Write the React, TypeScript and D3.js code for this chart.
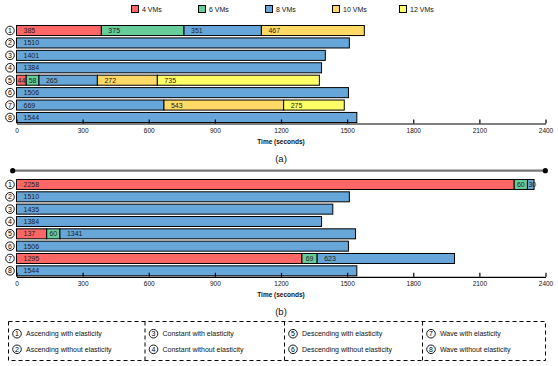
import React, { useEffect, useRef } from 'react';
import * as d3 from 'd3';

const vmTypes = ['4 VMs', '6 VMs', '8 VMs', '10 VMs', '12 VMs'];
const vmColors = ['#ff6666', '#66cc99', '#66a6d9', '#ffd966', '#ffff66'];
const rowIds = ['1', '2', '3', '4', '5', '6', '7', '8'];
const timeTicks = [0, 300, 600, 900, 1200, 1500, 1800, 2100, 2400];

// each row: list of [vm type index, seconds]
const runsA = [
  [[0, 385], [1, 375], [2, 351], [3, 467]],
  [[2, 1510]],
  [[2, 1401]],
  [[2, 1384]],
  [[0, 44], [1, 58], [2, 265], [3, 272], [4, 735]],
  [[2, 1506]],
  [[2, 669], [3, 543], [4, 275]],
  [[2, 1544]],
];

const runsB = [
  [[0, 2258], [1, 60], [2, 30]],
  [[2, 1510]],
  [[2, 1435]],
  [[2, 1384]],
  [[0, 137], [1, 60], [2, 1341]],
  [[2, 1506]],
  [[0, 1295], [1, 69], [2, 623]],
  [[2, 1544]],
];

const scenarioNames = [
  'Ascending with elasticity',
  'Ascending without elasticity',
  'Constant with elasticity',
  'Constant without elasticity',
  'Descending with elasticity',
  'Descending without elasticity',
  'Wave with elasticity',
  'Wave without elasticity',
];

const FONT = '"Liberation Sans", Arial, sans-serif';

function numberBadge(g, cx, cy, label) {
  g.append('circle')
    .attr('cx', cx)
    .attr('cy', cy)
    .attr('r', 4.3)
    .attr('fill', '#fff')
    .attr('stroke', '#000')
    .attr('stroke-width', 0.9);
  g.append('text')
    .attr('x', cx)
    .attr('y', cy)
    .attr('dy', '0.36em')
    .attr('text-anchor', 'middle')
    .attr('font-size', 7)
    .attr('fill', '#000')
    .text(label);
}

function drawPanel(svg, runs, top, axisY, caption) {
  const x = d3.scaleLinear().domain([0, 2400]).range([16.5, 545.5]);
  const y = d3
    .scaleBand()
    .domain(rowIds)
    .range([top, axisY + 0.5])
    .paddingInner(0.19)
    .paddingOuter(0.12);

  const g = svg.append('g');

  rowIds.forEach((id, i) => {
    numberBadge(g, 10, y(id) + y.bandwidth() / 2, id);
    let acc = 0;
    const segs = runs[i].map(([vm, sec]) => {
      const s = { vm, sec, start: acc };
      acc += sec;
      return s;
    });
    const row = g.append('g');
    row
      .selectAll('rect')
      .data(segs)
      .join('rect')
      .attr('x', d => x(d.start))
      .attr('y', y(id))
      .attr('width', d => x(d.start + d.sec) - x(d.start))
      .attr('height', y.bandwidth())
      .attr('fill', d => vmColors[d.vm])
      .attr('stroke', '#000')
      .attr('stroke-width', 1);
    row
      .selectAll('text')
      .data(segs)
      .join('text')
      .attr('x', d => {
        const w = x(d.start + d.sec) - x(d.start);
        const tw = String(d.sec).length * 3.9;
        return w > 22 ? x(d.start) + 7 : x(d.start) + Math.max(1, (w - tw) / 2);
      })
      .attr('y', y(id) + y.bandwidth() / 2)
      .attr('dy', '0.36em')
      .attr('font-size', 7)
      .attr('fill', '#222')
      .text(d => d.sec);
  });

  const axis = g
    .append('g')
    .attr('transform', `translate(0,${axisY})`)
    .call(
      d3
        .axisBottom(x)
        .tickValues(timeTicks)
        .tickFormat(d3.format('d'))
        .tickSizeInner(-4)
        .tickSizeOuter(0)
        .tickPadding(5),
    );
  axis.select('.domain').attr('stroke', '#000').attr('stroke-width', 1.2);
  axis.selectAll('.tick line').attr('stroke', '#000').attr('stroke-width', 1.2);
  axis
    .selectAll('.tick text')
    .attr('font-family', FONT)
    .attr('font-size', 6.5)
    .attr('fill', '#111');

  g.append('text')
    .attr('x', 281)
    .attr('y', axisY + 20.5)
    .attr('text-anchor', 'middle')
    .attr('font-size', 6.5)
    .attr('font-weight', 'bold')
    .attr('fill', '#111')
    .text('Time (seconds)');

  g.append('text')
    .attr('x', 281)
    .attr('y', axisY + 38.5)
    .attr('text-anchor', 'middle')
    .attr('font-size', 9.5)
    .attr('fill', '#111')
    .text(caption);
}

export default function App() {
  const ref = useRef(null);

  useEffect(() => {
    const svg = d3.select(ref.current);
    svg.selectAll('*').remove();
    svg.attr('font-family', FONT);

    // top legend
    const legend = svg.append('g');
    vmTypes.forEach((name, i) => {
      const lx = 131 + i * 67;
      legend
        .append('rect')
        .attr('x', lx + 0.5)
        .attr('y', 5.5)
        .attr('width', 7)
        .attr('height', 7)
        .attr('fill', vmColors[i])
        .attr('stroke', '#000')
        .attr('stroke-width', 1);
      legend
        .append('text')
        .attr('x', lx + 11)
        .attr('y', 9)
        .attr('dy', '0.36em')
        .attr('font-size', 7)
        .attr('fill', '#111')
        .text(name);
    });

    drawPanel(svg, runsA, 24, 123.5, '(a)');

    // separator between the panels
    svg
      .append('line')
      .attr('x1', 12.7)
      .attr('x2', 545.3)
      .attr('y1', 170.7)
      .attr('y2', 170.7)
      .attr('stroke', '#777')
      .attr('stroke-width', 2.2);
    [12.7, 545.3].forEach(cx =>
      svg.append('circle').attr('cx', cx).attr('cy', 170.7).attr('r', 2.6).attr('fill', '#000'),
    );

    drawPanel(svg, runsB, 178, 276.8, '(b)');

    // scenario legend box
    const box = svg.append('g');
    const cols = [8.5, 145, 284.5, 422.5];
    box
      .append('rect')
      .attr('x', 8.5)
      .attr('y', 321.5)
      .attr('width', 537)
      .attr('height', 39)
      .attr('fill', 'none')
      .attr('stroke', '#000')
      .attr('stroke-width', 1)
      .attr('stroke-dasharray', '4,3');
    cols.slice(1).forEach(cx =>
      box
        .append('line')
        .attr('x1', cx)
        .attr('x2', cx)
        .attr('y1', 321.5)
        .attr('y2', 360.5)
        .attr('stroke', '#000')
        .attr('stroke-width', 1)
        .attr('stroke-dasharray', '4,3'),
    );
    scenarioNames.forEach((name, i) => {
      const cx = cols[Math.floor(i / 2)];
      const cy = i % 2 === 0 ? 333.7 : 349.3;
      numberBadge(box, cx + 8.5, cy, rowIds[i]);
      box
        .append('text')
        .attr('x', cx + 17.5)
        .attr('y', cy)
        .attr('dy', '0.36em')
        .attr('font-size', 7)
        .attr('fill', '#111')
        .text(name);
    });
  }, []);

  return (
    <svg
      ref={ref}
      width={558}
      height={366}
      style={{ position: 'absolute', left: 0, top: 0, background: '#fff' }}
    />
  );
}
